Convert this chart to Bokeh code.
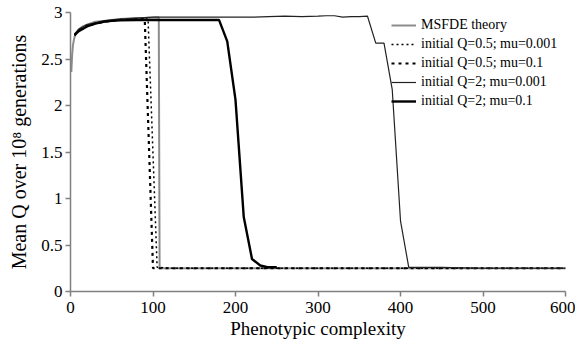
from bokeh.plotting import figure
from bokeh.models import Legend, LegendItem, FixedTicker
from bokeh.embed import file_html
from bokeh.resources import INLINE

# ---- data ----
theory_x = [1, 2, 3, 4, 5, 7, 10, 15, 20, 30, 40, 50, 60, 70, 80, 90, 100, 107, 108, 200, 300, 400, 500, 600]
theory_y = [2.36, 2.55, 2.65, 2.70, 2.74, 2.78, 2.82, 2.85, 2.87, 2.90, 2.91, 2.92, 2.93, 2.935, 2.94, 2.94, 2.945, 2.95, 0.25, 0.25, 0.25, 0.25, 0.25, 0.25]

q05_lo_x = [5, 10, 20, 30, 40, 50, 60, 70, 80, 94, 105, 120, 200, 300, 400, 500, 600]
q05_lo_y = [2.75, 2.80, 2.85, 2.88, 2.90, 2.91, 2.92, 2.92, 2.93, 2.93, 0.26, 0.25, 0.25, 0.25, 0.25, 0.25, 0.25]

q05_hi_x = [5, 10, 20, 30, 40, 50, 60, 70, 80, 90, 100, 110, 200, 300, 400, 500, 600]
q05_hi_y = [2.76, 2.81, 2.86, 2.88, 2.90, 2.91, 2.92, 2.92, 2.93, 2.93, 0.25, 0.25, 0.25, 0.25, 0.25, 0.25, 0.25]

q2_lo_x = [5, 10, 20, 30, 40, 50, 60, 80, 100, 120, 140, 160, 180, 200, 220, 240, 260, 280, 300, 310, 320, 330, 340, 350, 360, 370, 380, 390, 400, 410, 450, 500, 550, 600]
q2_lo_y = [2.77, 2.82, 2.87, 2.89, 2.91, 2.92, 2.93, 2.94, 2.95, 2.95, 2.95, 2.95, 2.95, 2.95, 2.95, 2.955, 2.96, 2.955, 2.96, 2.965, 2.965, 2.95, 2.955, 2.955, 2.96, 2.67, 2.67, 2.17, 0.76, 0.26, 0.26, 0.25, 0.25, 0.25]

q2_hi_x = [5, 10, 20, 30, 40, 50, 60, 80, 100, 120, 140, 160, 180, 190, 200, 210, 220, 230, 240, 250]
q2_hi_y = [2.76, 2.80, 2.85, 2.88, 2.90, 2.91, 2.915, 2.92, 2.92, 2.92, 2.92, 2.92, 2.92, 2.69, 2.06, 0.80, 0.35, 0.28, 0.26, 0.26]

x_ticks = [0, 100, 200, 300, 400, 500, 600]
y_ticks = [0, 0.5, 1, 1.5, 2, 2.5, 3]
y_tick_labels = ["0", "0.5", "1", "1.5", "2", "2.5", "3"]

labels = ["MSFDE theory", "initial Q=0.5; mu=0.001", "initial Q=0.5; mu=0.1",
          "initial Q=2; mu=0.001", "initial Q=2; mu=0.1"]

SERIF = "Liberation Serif"
AX = "#808080"

p = figure(width=575, height=344, x_range=(0, 600), y_range=(0, 3),
           output_backend="svg", toolbar_location=None,
           min_border_left=70, min_border_right=10, min_border_top=12, min_border_bottom=53)
p.outline_line_color = None
p.xgrid.visible = False
p.ygrid.visible = False

r_th = p.line(theory_x, theory_y, line_color="#8c8c8c", line_width=2)
r_a = p.line(q05_lo_x, q05_lo_y, line_color="black", line_width=1.5, line_dash="2 3")
r_b = p.line(q05_hi_x, q05_hi_y, line_color="black", line_width=2.2, line_dash="3 4")
r_c = p.line(q2_lo_x, q2_lo_y, line_color="#222222", line_width=1.2)
r_d = p.line(q2_hi_x, q2_hi_y, line_color="black", line_width=2.4)

legend = Legend(items=[LegendItem(label=labels[0], renderers=[r_th]),
                       LegendItem(label=labels[1], renderers=[r_a]),
                       LegendItem(label=labels[2], renderers=[r_b]),
                       LegendItem(label=labels[3], renderers=[r_c]),
                       LegendItem(label=labels[4], renderers=[r_d])],
                location=(321, 182))
legend.border_line_color = None
legend.background_fill_alpha = 0
legend.padding = 0
legend.margin = 0
legend.spacing = 3
legend.glyph_height = 16
legend.label_height = 16
legend.glyph_width = 25
legend.label_standoff = 5
legend.label_text_font = SERIF
legend.label_text_font_size = "14px"
legend.label_text_color = "black"
p.add_layout(legend)

p.xaxis.ticker = FixedTicker(ticks=x_ticks)
p.yaxis.ticker = FixedTicker(ticks=y_ticks)
p.yaxis.major_label_overrides = {t: s for t, s in zip(y_ticks, y_tick_labels)}
for ax in (p.xaxis[0], p.yaxis[0]):
    ax.axis_line_color = AX
    ax.axis_line_width = 1.5
    ax.major_tick_line_color = AX
    ax.major_tick_line_width = 1.5
    ax.major_tick_out = 5
    ax.major_tick_in = 0
    ax.minor_tick_line_color = None
    ax.major_label_text_font = SERIF
    ax.major_label_text_font_size = "17px"
    ax.major_label_text_color = "black"
    ax.axis_label_text_font = SERIF
    ax.axis_label_text_font_style = "normal"
    ax.axis_label_text_color = "black"
p.xaxis.axis_label = "Phenotypic complexity"
p.xaxis.axis_label_text_font_size = "19px"
p.xaxis.major_label_standoff = 5
p.xaxis.axis_label_standoff = 2
p.yaxis.axis_label = "Mean Q over 10\u2078 generations"
p.yaxis.axis_label_text_font_size = "20px"
p.yaxis.major_label_standoff = 3
p.yaxis.axis_label_standoff = 8

open("out.html", "w").write(file_html(p, INLINE))
